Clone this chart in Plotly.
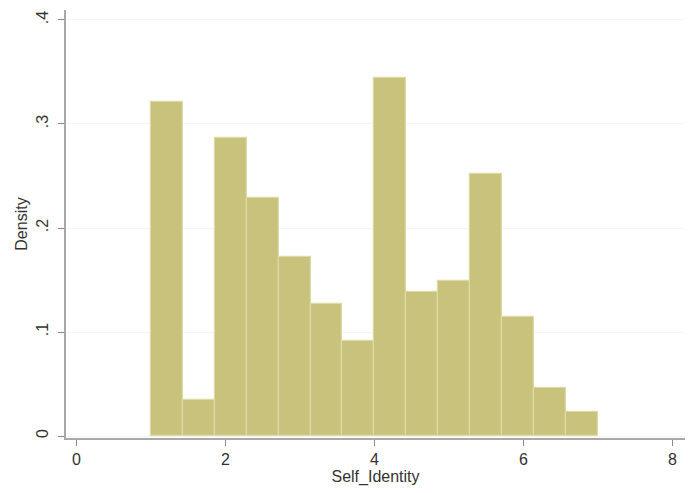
import plotly.graph_objects as go

# Histogram data (Stata-style density histogram)
bin_start = 1.0
bin_width = 6.0 / 14
densities = [0.321, 0.035, 0.287, 0.229, 0.172, 0.127, 0.091,
             0.344, 0.138, 0.149, 0.252, 0.114, 0.046, 0.023]
x_ticks = [0, 2, 4, 6, 8]
y_ticks = [0, 0.1, 0.2, 0.3, 0.4]
y_tick_labels = ["0", ".1", ".2", ".3", ".4"]

centers = [bin_start + bin_width * (i + 0.5) for i in range(len(densities))]

FONT = "Liberation Sans Narrow, Liberation Sans, Arial, sans-serif"

fig = go.Figure(go.Bar(
    x=centers, y=densities, width=bin_width,
    marker=dict(color="#c8c27c", line=dict(color="#dedaa6", width=1.2)),
))

fig.update_layout(
    width=697, height=493,
    margin=dict(l=66, r=12, t=10, b=55),
    paper_bgcolor="white", plot_bgcolor="white",
    showlegend=False, bargap=0,
    font=dict(family=FONT, size=16, color="#333333"),
)
fig.update_xaxes(
    range=[-0.14, 8.17], tickvals=x_ticks, ticks="outside", ticklen=6,
    tickcolor="#8c8c8c", showline=True, linecolor="#a8a8a8", linewidth=2,
    showgrid=False, zeroline=False,
    title=dict(text="Self_Identity", standoff=0, font=dict(size=16)),
)
fig.update_yaxes(
    range=[-0.0019, 0.4096], tickvals=y_ticks, ticktext=y_tick_labels,
    tickangle=-90, ticks="outside", ticklen=6, tickcolor="#8c8c8c",
    ticklabelstandoff=4,
    showline=True, linecolor="#a8a8a8", linewidth=2,
    showgrid=True, gridcolor="#f1f5f5", gridwidth=1, zeroline=False,
    title=dict(text="Density", standoff=2, font=dict(size=16)),
)

fig.write_html("out.html")
